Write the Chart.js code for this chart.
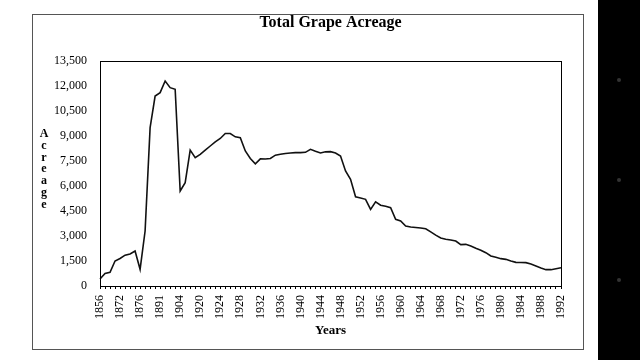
<!DOCTYPE html>
<html>
<head>
<meta charset="utf-8">
<script src="https://cdn.jsdelivr.net/npm/chart.js@4/dist/chart.umd.min.js"></script>
<style>
  html, body { margin: 0; padding: 0; background: #000; }
  #page { position: relative; width: 598px; height: 360px; background: #fff; }
  #frame { position: absolute; left: 32px; top: 14px; width: 550px; height: 334px; border: 1px solid #555; }
  canvas { position: absolute; left: 0; top: 0; }
  .dot { position: absolute; left: 617px; width: 4px; height: 4px; border-radius: 2px; background: #333; }
</style>
</head>
<body>
<div id="page">
  <div id="frame"></div>
  <canvas id="grapeChart" width="598" height="360"></canvas>
</div>
<div class="dot" style="top:78px"></div>
<div class="dot" style="top:178px"></div>
<div class="dot" style="top:278px"></div>
<script>
'use strict';

// categories (one per data point)
const years = [
    '1856', '1860', '1864', '1868',
    '1872', '1873', '1874', '1875',
    '1876', '1880', '1884', '1888',
    '1891', '1894', '1897', '1900',
    '1904', '1908', '1912', '1916',
    '1920', '1921', '1922', '1923', '1924', '1925', '1926', '1927',
    '1928', '1929', '1930', '1931', '1932', '1933', '1934', '1935',
    '1936', '1937', '1938', '1939', '1940', '1941', '1942', '1943',
    '1944', '1945', '1946', '1947', '1948', '1949', '1950', '1951',
    '1952', '1953', '1954', '1955', '1956', '1957', '1958', '1959',
    '1960', '1961', '1962', '1963', '1964', '1965', '1966', '1967',
    '1968', '1969', '1970', '1971', '1972', '1973', '1974', '1975',
    '1976', '1977', '1978', '1979', '1980', '1981', '1982', '1983',
    '1984', '1985', '1986', '1987', '1988', '1989', '1990', '1991',
    '1992'
];

// total grape acreage
const acreage = [
    420, 750, 820, 1500,
    1650, 1850, 1920, 2100,
    1000, 3300, 9500, 11400,
    11600, 12300, 11900, 11800,
    5700, 6200, 8150, 7700,
    7900, 8150, 8400, 8650, 8850, 9150, 9150, 8950,
    8900, 8100, 7650, 7330, 7630, 7620, 7650, 7850,
    7900, 7950, 7980, 8000, 8000, 8020, 8200, 8080,
    7980, 8050, 8060, 7980, 7800, 6900, 6400, 5350,
    5280, 5200, 4600, 5050, 4850, 4780, 4700, 4000,
    3900, 3600, 3540, 3510, 3480, 3430, 3250, 3050,
    2880, 2800, 2760, 2700, 2480, 2500, 2400, 2270,
    2150, 2000, 1800, 1720, 1640, 1600, 1500, 1420,
    1410, 1400, 1320, 1200, 1080, 980, 980, 1040,
    1100
];

// labels shown under every 4th point
const xTickLabels = [
    '1856', '1872', '1876', '1891', '1904', '1920', '1924', '1928',
    '1932', '1936', '1940', '1944', '1948', '1952', '1956', '1960',
    '1964', '1968', '1972', '1976', '1980', '1984', '1988', '1992'
];

const SERIF = '"Liberation Serif", "DejaVu Serif", serif';

// Title, axis titles and the plot box
const decorations = {
    id: 'decorations',
    afterDraw(chart) {
        const ctx = chart.ctx;
        const area = chart.chartArea;
        ctx.save();
        ctx.strokeStyle = '#000';
        ctx.lineWidth = 1;
        ctx.strokeRect(area.left + 0.5, area.top + 0.5, area.right - area.left, area.bottom - area.top);

        ctx.fillStyle = '#000';
        ctx.textAlign = 'center';
        ctx.textBaseline = 'middle';
        ctx.font = 'bold 16px ' + SERIF;
        ctx.fillText('Total Grape Acreage', (area.left + area.right) / 2, 23);

        ctx.font = 'bold 13px ' + SERIF;
        ctx.fillText('Years', (area.left + area.right) / 2, 331);

        ctx.font = 'bold 12px ' + SERIF;
        'Acreage'.split('').forEach((ch, i) => {
            ctx.fillText(ch, 44, 134 + i * 11.8);
        });
        ctx.restore();
    }
};

new Chart(document.getElementById('grapeChart'), {
    type: 'line',
    data: {
        labels: years,
        datasets: [{
            data: acreage,
            borderColor: '#111',
            borderWidth: 1.6,
            pointRadius: 0,
            tension: 0,
            fill: false,
        }]
    },
    options: {
        responsive: false,
        animation: false,
        layout: { padding: { top: 61, right: 37, left: 0, bottom: 0 } },
        plugins: {
            legend: { display: false },
            tooltip: { enabled: false },
        },
        scales: {
            x: {
                offset: false,
                afterFit(scale) { scale.height = 74; },
                grid: { drawOnChartArea: false, drawTicks: true, tickLength: 3, color: '#000' },
                border: { color: '#000' },
                ticks: {
                    autoSkip: false,
                    minRotation: 90,
                    maxRotation: 90,
                    padding: 6,
                    color: '#000',
                    font: { family: SERIF, size: 12 },
                    callback: (val, i) => (i % 4 === 0 ? xTickLabels[i / 4] : ''),
                },
            },
            y: {
                min: 0,
                max: 13500,
                afterFit(scale) { scale.width = 100; },
                grid: { display: false },
                border: { color: '#000' },
                ticks: {
                    stepSize: 1500,
                    padding: 5,
                    color: '#000',
                    font: { family: SERIF, size: 12 },
                    callback: (v) => v.toLocaleString('en-US'),
                },
            },
        },
    },
    plugins: [decorations],
});
</script>
</body>
</html>
